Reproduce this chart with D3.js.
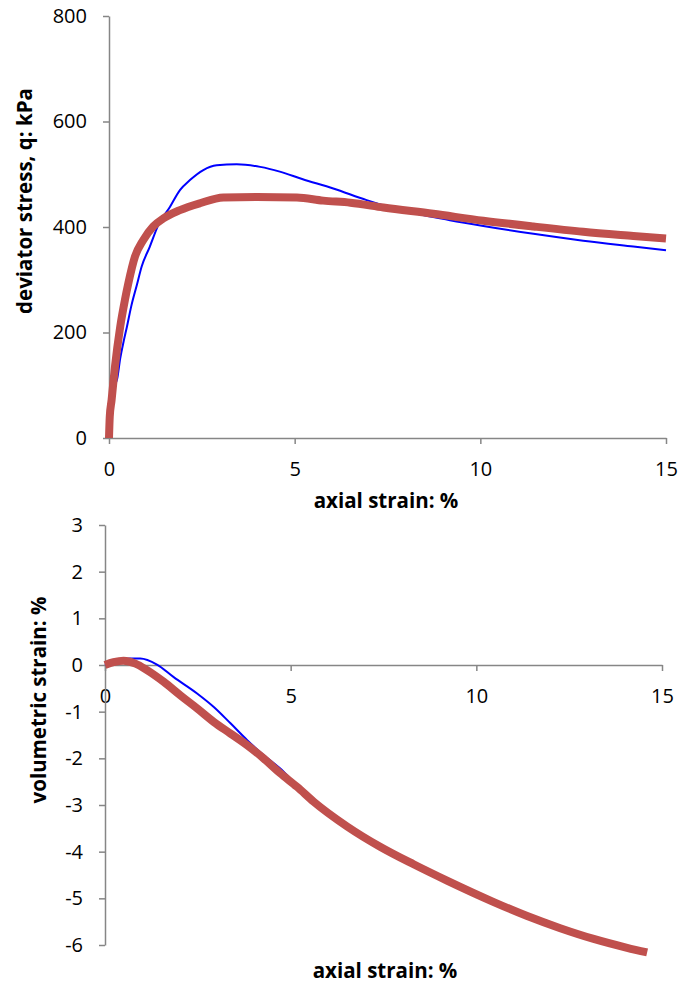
<!DOCTYPE html>
<html>
<head>
<meta charset="utf-8">
<script src="https://cdn.jsdelivr.net/npm/d3@7"></script>
<style>
  body { margin: 0; background: #fff; }
  text { font-family: "Open Sans", sans-serif; fill: #000; }
</style>
</head>
<body>
<svg id="chart"></svg>
<script>
const width = 681;
const height = 984;

// x tick values shared by both panels
const strainTicks = [0, 5, 10, 15];
const qTicks = [0, 200, 400, 600, 800];
const volTicks = [3, 2, 1, 0, -1, -2, -3, -4, -5, -6];

// deviator stress vs axial strain, blue series
const blueStrainQ = [0, 0.05, 0.12, 0.22, 0.3, 0.4, 0.48, 0.6, 0.75, 0.88, 1.1, 1.33, 1.64, 1.91, 2.18, 2.54, 2.9, 3.44, 4.07, 4.6, 5.2, 6.04, 6.94, 7.84, 9.18, 10.08, 11.43, 12.77, 14.12, 15.0];
const blueQ = [0, 60, 95, 112, 150, 185, 210, 250, 290, 325, 363, 404, 438, 470, 489, 508, 517, 519, 514, 505, 491, 473, 451, 432, 413, 402, 387, 374, 363, 356];
// deviator stress vs axial strain, red series
const redStrainQ = [0, 0.02, 0.07, 0.16, 0.3, 0.43, 0.52, 0.7, 0.92, 1.19, 1.46, 1.91, 2.45, 3.08, 3.98, 5.06, 5.77, 6.5, 7.39, 8.73, 10.08, 11.43, 12.77, 14.12, 15.0];
const redQ = [0, 40, 72, 135, 210, 262, 293, 344, 375, 401, 416, 432, 445, 456, 457, 456, 450, 446, 437, 425, 412, 401, 391, 383, 378];

// volumetric strain vs axial strain, blue series
const blueStrainV = [0, 0.3, 0.68, 0.95, 1.4, 1.85, 2.48, 2.93, 3.38, 3.83, 4.27, 4.72, 5.17, 5.62, 6.52, 7.42, 8.31, 9.21, 10.47, 11.37, 12.26, 13.16, 14.06, 14.5];
const blueV = [0, 0.1, 0.14, 0.14, 0.01, -0.26, -0.61, -0.9, -1.25, -1.61, -1.93, -2.22, -2.58, -2.89, -3.43, -3.87, -4.24, -4.59, -5.05, -5.35, -5.61, -5.84, -6.03, -6.1];
// volumetric strain vs axial strain, red series
const redStrainV = [0, 0.23, 0.5, 0.82, 1.13, 1.58, 2.03, 2.48, 2.93, 3.38, 3.83, 4.27, 4.72, 5.17, 5.62, 6.52, 7.42, 8.31, 9.21, 10.47, 11.37, 12.26, 13.16, 14.06, 14.6];
const redV = [0, 0.06, 0.09, 0.03, -0.11, -0.36, -0.65, -0.93, -1.22, -1.47, -1.72, -2.0, -2.32, -2.61, -2.93, -3.46, -3.90, -4.27, -4.62, -5.08, -5.38, -5.64, -5.87, -6.06, -6.16];

const axisColor = "#868686";
const blue = "#0000FF";
const red = "#C0504D";

const svg = d3.select("#chart")
    .attr("width", width)
    .attr("height", height);

function pairs(xs, ys) {
    return xs.map((x, i) => [x, ys[i]]);
}

function drawSeries(g, x, y, data, color, w) {
    const line = d3.line()
        .x(d => x(d[0]))
        .y(d => y(d[1]))
        .curve(d3.curveMonotoneX);
    g.append("path")
        .datum(data)
        .attr("fill", "none")
        .attr("stroke", color)
        .attr("stroke-width", w)
        .attr("stroke-linejoin", "round")
        .attr("d", line);
}

function styleAxis(g) {
    g.select(".domain").attr("stroke", axisColor).attr("stroke-width", 1.5);
    g.selectAll(".tick line").attr("stroke", axisColor).attr("stroke-width", 1.5);
    g.selectAll(".tick text").attr("font-size", "20px").attr("fill", "#000");
}

// plain hyphen minus, like the original
const plain = d => String(d);

// ---- top panel: deviator stress ----
const x1 = d3.scaleLinear().domain([0, 15]).range([109, 666]);
const y1 = d3.scaleLinear().domain([0, 800]).range([438, 16]);

svg.append("g")
    .attr("transform", `translate(0,${y1(0)})`)
    .call(d3.axisBottom(x1).tickValues(strainTicks).tickFormat(plain).tickSize(6).tickPadding(18).tickSizeOuter(0))
    .call(styleAxis);

svg.append("g")
    .attr("transform", `translate(${x1(0)},0)`)
    .call(d3.axisLeft(y1).tickValues(qTicks).tickFormat(plain).tickSize(6).tickPadding(16).tickSizeOuter(0))
    .call(styleAxis);

const topPanel = svg.append("g");
drawSeries(topPanel, x1, y1, pairs(blueStrainQ, blueQ), blue, 2);
drawSeries(topPanel, x1, y1, pairs(redStrainQ, redQ), red, 8);

svg.append("text")
    .attr("x", 386).attr("y", 500)
    .attr("text-anchor", "middle").attr("dominant-baseline", "central")
    .attr("font-size", "20.5px").attr("font-weight", "bold")
    .text("axial strain: %");

svg.append("text")
    .attr("transform", "translate(24,201) rotate(-90)")
    .attr("text-anchor", "middle").attr("dominant-baseline", "central")
    .attr("font-size", "20.5px").attr("font-weight", "bold")
    .text("deviator stress, q: kPa");

// ---- bottom panel: volumetric strain ----
const x2 = d3.scaleLinear().domain([0, 15]).range([105, 662]);
const y2 = d3.scaleLinear().domain([-6, 3]).range([945, 525]);

svg.append("g")
    .attr("transform", `translate(0,${y2(0)})`)
    .call(d3.axisBottom(x2).tickValues(strainTicks).tickFormat(plain).tickSize(6).tickPadding(18).tickSizeOuter(0))
    .call(styleAxis);

svg.append("g")
    .attr("transform", `translate(${x2(0)},0)`)
    .call(d3.axisLeft(y2).tickValues(volTicks).tickFormat(plain).tickSize(6).tickPadding(16).tickSizeOuter(0))
    .call(styleAxis);

const bottomPanel = svg.append("g");
drawSeries(bottomPanel, x2, y2, pairs(blueStrainV, blueV), blue, 2);
drawSeries(bottomPanel, x2, y2, pairs(redStrainV, redV), red, 8);

svg.append("text")
    .attr("x", 385).attr("y", 970)
    .attr("text-anchor", "middle").attr("dominant-baseline", "central")
    .attr("font-size", "20.5px").attr("font-weight", "bold")
    .text("axial strain: %");

svg.append("text")
    .attr("transform", "translate(38,700) rotate(-90)")
    .attr("text-anchor", "middle").attr("dominant-baseline", "central")
    .attr("font-size", "20.5px").attr("font-weight", "bold")
    .text("volumetric strain: %");
</script>
</body>
</html>
